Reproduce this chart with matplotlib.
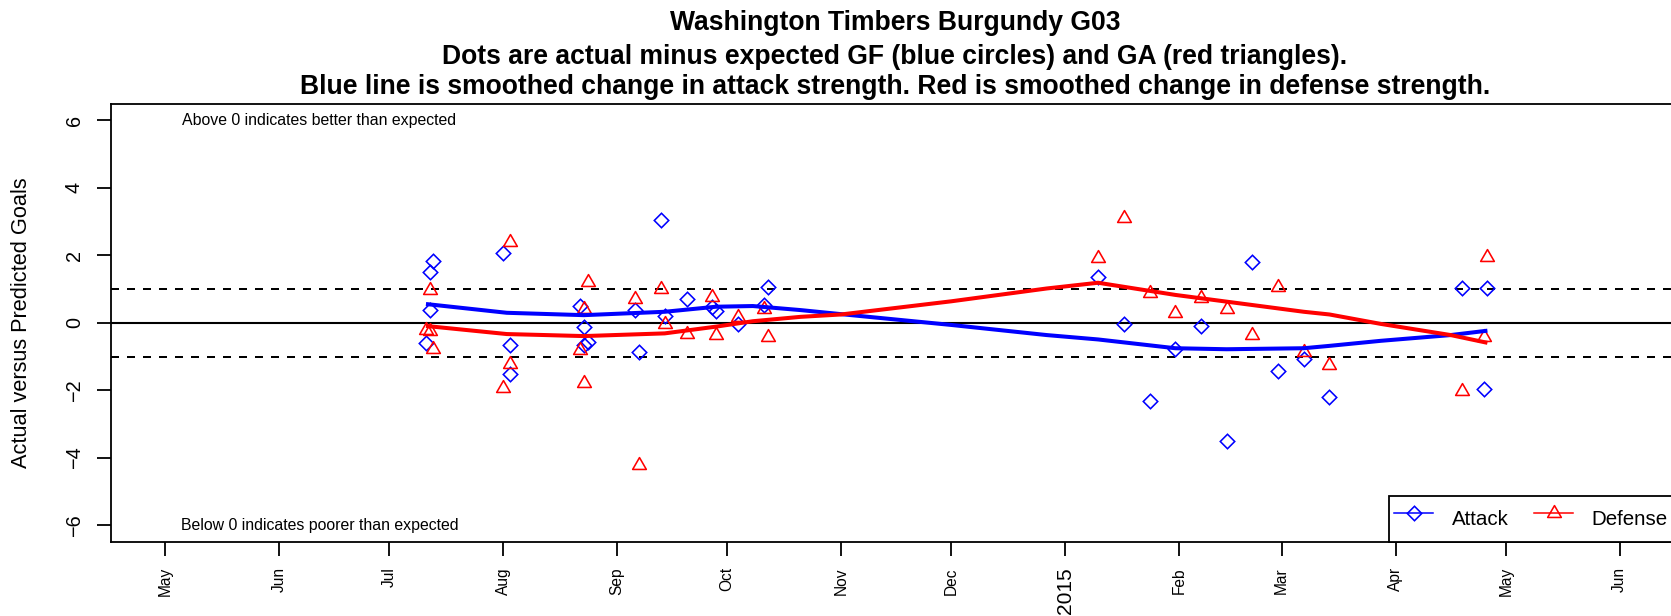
import matplotlib
matplotlib.use("Agg")
import matplotlib.pyplot as plt
import matplotlib.dates as mdates
from matplotlib.lines import Line2D
from matplotlib.path import Path
import pandas as pd

plt.rcParams['font.family'] = ['Liberation Sans', 'DejaVu Sans']

# ---------------- data ----------------
title_lines = [
    "Washington Timbers Burgundy G03",
    "Dots are actual minus expected GF (blue circles) and GA (red triangles).",
    "Blue line is smoothed change in attack strength. Red is smoothed change in defense strength.",
]
y_label = "Actual versus Predicted Goals"
note_above = "Above 0 indicates better than expected"
note_below = "Below 0 indicates poorer than expected"

game_dates = ["2014-07-11", "2014-07-12", "2014-07-12", "2014-07-13", "2014-08-01",
              "2014-08-03", "2014-08-03", "2014-08-22", "2014-08-23", "2014-08-23",
              "2014-08-24", "2014-09-06", "2014-09-07", "2014-09-13", "2014-09-14",
              "2014-09-20", "2014-09-27", "2014-09-28", "2014-10-04", "2014-10-11",
              "2014-10-12", "2015-01-10", "2015-01-17", "2015-01-24", "2015-01-31",
              "2015-02-07", "2015-02-14", "2015-02-21", "2015-02-28", "2015-03-07",
              "2015-03-14", "2015-04-19", "2015-04-25", "2015-04-26"]
gf_diff = [-0.60, 1.52, 0.38, 1.84, 2.06, -0.65, -1.52, 0.50, -0.11, -0.65,
           -0.56, 0.38, -0.87, 3.05, 0.20, 0.72, 0.48, 0.36, -0.03, 0.53,
           1.05, 1.35, -0.04, -2.30, -0.77, -0.08, -3.49, 1.80, -1.42, -1.07,
           -2.20, 1.03, -1.97, 1.03]
ga_diff = [-0.20, 0.97, -0.25, -0.77, -1.94, 2.41, -1.22, -0.80, 0.40, -1.79,
           1.20, 0.70, -4.21, 1.00, -0.03, -0.33, 0.78, -0.37, 0.18, 0.40,
           -0.43, 1.91, 3.10, 0.90, 0.30, 0.73, 0.40, -0.36, 1.07, -0.85,
           -1.25, -2.01, -0.41, 1.94]

smooth_dates = ["2014-07-11", "2014-08-02", "2014-08-23", "2014-09-14", "2014-09-28",
                "2014-10-08", "2014-10-21", "2014-11-01", "2014-12-01", "2014-12-27",
                "2015-01-10", "2015-01-31", "2015-02-14", "2015-03-07", "2015-03-14",
                "2015-03-28", "2015-04-16", "2015-04-26"]
attack_smooth = [0.56, 0.30, 0.23, 0.33, 0.48, 0.50, 0.38, 0.26, -0.06, -0.36,
                 -0.49, -0.75, -0.78, -0.75, -0.68, -0.53, -0.36, -0.23]
defense_smooth = [-0.09, -0.33, -0.39, -0.31, -0.11, 0.05, 0.18, 0.25, 0.64, 1.02,
                  1.19, 0.83, 0.63, 0.33, 0.25, -0.03, -0.36, -0.59]

month_ticks = pd.date_range("2014-05-01", "2015-06-01", freq="MS")
month_labels = ["May", "Jun", "Jul", "Aug", "Sep", "Oct", "Nov", "Dec",
                "2015", "Feb", "Mar", "Apr", "May", "Jun"]
y_ticks = [-6, -4, -2, 0, 2, 4, 6]
legend_labels = ["Attack", "Defense"]

# ---------------- layout ----------------
W, H = 1671, 616
fig = plt.figure(figsize=(W / 100, H / 100), dpi=100)
ax_l, ax_r, ax_t, ax_b = 110.8, 1674.0, 104.0, 542.3
ax = fig.add_axes([ax_l / W, 1 - ax_b / H, (ax_r - ax_l) / W, (ax_b - ax_t) / H])
renderer = fig.canvas.get_renderer()


def fit(t, target, dim="w"):
    bb = t.get_window_extent(renderer)
    cur = bb.width if dim == "w" else bb.height
    t.set_fontsize(t.get_fontsize() * target / cur)


gd = pd.to_datetime(game_dates)
sd = pd.to_datetime(smooth_dates)

ax.axhline(0, color="black", lw=1.5, zorder=1)
for lvl in (1, -1):
    ax.axhline(lvl, color="black", lw=1.44, linestyle=(0, (4, 4)), zorder=1)

diamond = (4, 0, 0)
tri = Path([(0, 1), (-0.866, -0.5), (0.866, -0.5), (0, 1)], closed=True)

ax.plot(gd, gf_diff, linestyle="none", marker=diamond, ms=10.4, mfc="none",
        mec="#0000FF", mew=1.15, zorder=3)
ax.plot(gd, ga_diff, linestyle="none", marker=tri, ms=11.4, mfc="none",
        mec="#FF0000", mew=1.15, zorder=3)
ax.plot(sd, attack_smooth, color="#0000FF", lw=2.9, zorder=4, solid_capstyle="butt")
ax.plot(sd, defense_smooth, color="#FF0000", lw=2.9, zorder=4, solid_capstyle="butt")

x0 = mdates.date2num(pd.Timestamp("2014-05-01"))
ax.set_xlim(x0 - 14.81, x0 + 410.8)
ax.set_ylim(-6.50, 6.486)

ax.set_yticks(y_ticks)
ax.set_yticklabels([str(v).replace("-", "\u2212") for v in y_ticks], rotation=90,
                   va="center", fontsize=14.3)
ax.set_xticks(month_ticks)
ax.set_xticklabels(month_labels, rotation=90, va="top", ha="center", fontsize=11.2)
for lab in ax.get_xticklabels():
    if lab.get_text() == "2015":
        lab.set_fontsize(15.1)
ax.tick_params(axis="both", length=9.8, width=1.3, color="black")
ax.tick_params(axis="y", pad=9.5)
ax.tick_params(axis="x", pad=8.0)
for s in ax.spines.values():
    s.set_linewidth(1.3)
    s.set_color("black")

note_x = pd.Timestamp("2014-06-12")
t1 = ax.text(note_x, 6, note_above, ha="center", va="center", fontsize=10.8)
fit(t1, 275)
t2 = ax.text(note_x, -6, note_below, ha="center", va="center", fontsize=t1.get_fontsize())

handles = [Line2D([], [], color="#0000FF", lw=1.1, marker=diamond, ms=10.4, mfc="none", mew=1.15),
           Line2D([], [], color="#FF0000", lw=1.1, marker=tri, ms=11.4, mfc="none", mew=1.15)]
leg = ax.legend(handles, legend_labels, loc="lower left",
                bbox_to_anchor=((1389 - ax_l) / (ax_r - ax_l), 0.0), ncol=2,
                frameon=True, fancybox=False, edgecolor="black", framealpha=1,
                borderaxespad=0, borderpad=0.25, handlelength=1.9, handletextpad=0.9,
                columnspacing=1.25, handleheight=2.35, fontsize=14.8)
leg.get_frame().set_linewidth(1.3)

# titles
tts = []
for line, yb in zip(title_lines, [30, 63.5, 93.5]):
    tts.append(fig.text(895 / W, 1 - yb / H, line, ha="center", va="baseline",
                        fontweight="bold", fontsize=17))
fit(tts[2], 1195)
for t in tts[:2]:
    t.set_fontsize(tts[2].get_fontsize())

yl = fig.text(21.8 / W, 1 - 323 / H, y_label, rotation=90, ha="center", va="center",
              fontsize=13.5)
fit(yl, 290, "h")

fig.savefig("out.png", dpi=100)
